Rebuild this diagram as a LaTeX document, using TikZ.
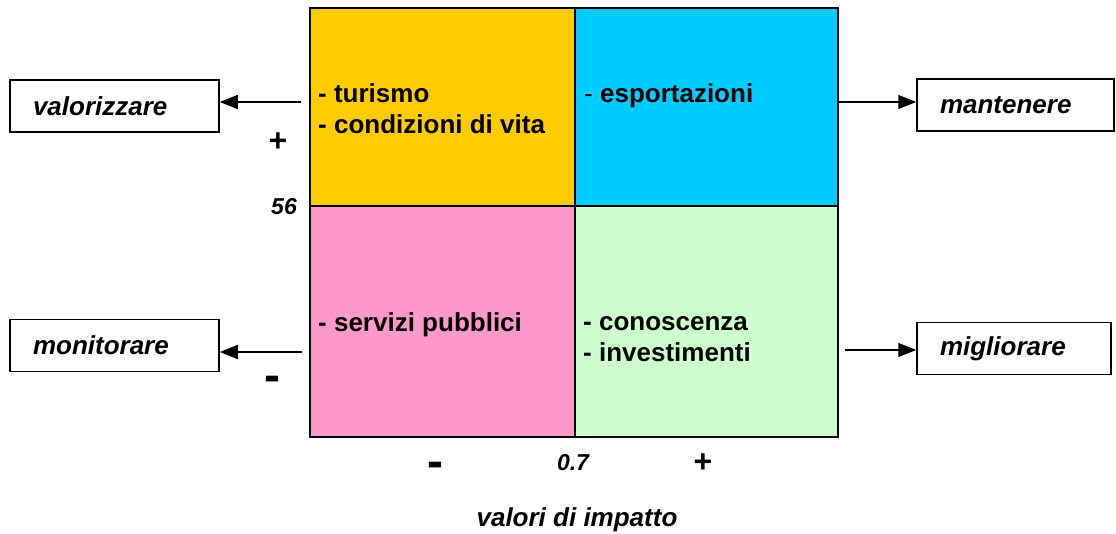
\documentclass[tikz,border=0pt]{standalone}
\usepackage{fontspec}
\setmainfont{Liberation Sans}
\usetikzlibrary{positioning, arrows.meta}
\definecolor{quadtl}{HTML}{FFCC00}
\definecolor{quadtr}{HTML}{00CCFF}
\definecolor{quadbl}{HTML}{FF99CC}
\definecolor{quadbr}{HTML}{CCFFCC}

\begin{document}
\begin{tikzpicture}[x=1pt, y=-1pt,
    quad/.style={anchor=base west, align=left, inner sep=0pt, font=\bfseries\fontsize{26}{31}\selectfont},
    act/.style={draw, line width=1.5pt, text width=163pt, inner xsep=23pt, minimum height=52pt, align=left, font=\bfseries\itshape\fontsize{26}{31}\selectfont},
    arr/.style={line width=1.3pt, -{Triangle[length=18pt, width=14pt]}},
    num/.style={font=\bfseries\itshape\fontsize{23}{28}\selectfont},
    sgn/.style={font=\bfseries\fontsize{32}{36}\selectfont},
    dsh/.style={font=\bfseries\fontsize{48}{52}\selectfont}]
  \useasboundingbox (0,0) rectangle (1116,533);

  \fill[quadtl] (310,8) rectangle (575,206);
  \fill[quadtr] (575,8) rectangle (838,206);
  \fill[quadbl] (310,206) rectangle (575,437);
  \fill[quadbr] (575,206) rectangle (838,437);
  \draw[line width=2pt] (310,8) rectangle (838,437);
  \draw[line width=2pt] (575,8) -- (575,437) (310,206) -- (838,206);  %axes

  \node[quad] (tur) at (318,133) {- turismo\\- condizioni di vita};
  \node[quad] (esp) at (584,102) {{\mdseries -} esportazioni};
  \node[quad] (ser) at (318,331) {- servizi pubblici};
  \node[quad] (con) at (583,361) {- conoscenza\\- investimenti};

  \node[act] (val) at (114.5,106) {valorizzare};
  \node[act] (mon) at (114.5,345.5) {monitorare};
  \node[act, text width=151pt] (man) at (1015.5,105) {mantenere};
  \node[act, text width=148pt] (mig) at (1014,348.5) {migliorare};

  \coordinate (av) at (301,102);
  \coordinate (am) at (302,352);
  \coordinate (ama) at (838,102);
  \coordinate (ami) at (845,350);
  \draw[arr] (av) -- (av -| val.east);
  \draw[arr] (am) -- (am -| mon.east);
  \draw[arr] (ama) -- (ama -| man.west);
  \draw[arr] (ami) -- (ami -| mig.west);

  \node[sgn] (ypl) at (278,142) {+};
  \node[num] (yv) at (284,207) {56};
  \node[dsh] (ymi) at (272,384) {-};
  \node[dsh] (xmi) at (435,470) {-};
  \node[num] (xv) at (573,463) {0.7};
  \node[sgn] (xpl) at (703,463) {+};
  \node[num, font=\bfseries\itshape\fontsize{26}{31}\selectfont] (xt) at (577,520) {valori di impatto};
\end{tikzpicture}
\end{document}
